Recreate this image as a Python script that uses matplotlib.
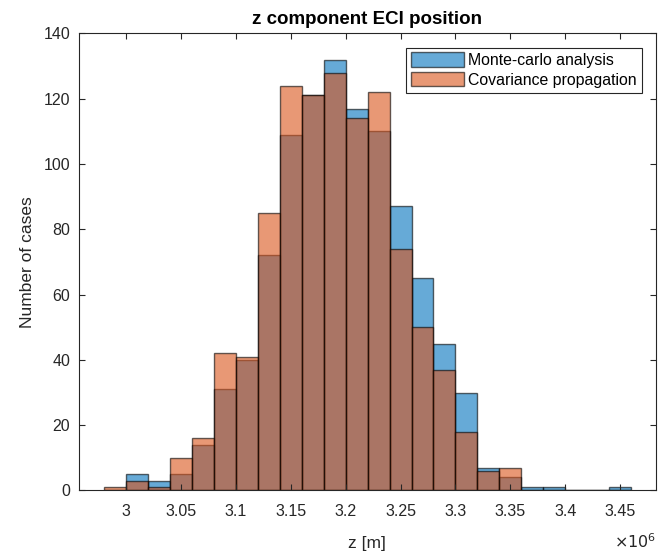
import matplotlib.pyplot as plt
import numpy as np

plt.rcParams['font.family'] = ['Liberation Sans', 'DejaVu Sans']

# histogram bins (z position, metres) and counts per bin
bin_edges = [2.98e6, 3.00e6, 3.02e6, 3.04e6, 3.06e6, 3.08e6, 3.10e6, 3.12e6,
             3.14e6, 3.16e6, 3.18e6, 3.20e6, 3.22e6, 3.24e6, 3.26e6, 3.28e6,
             3.30e6, 3.32e6, 3.34e6, 3.36e6, 3.38e6, 3.40e6, 3.42e6, 3.44e6, 3.46e6]
mc_counts = [0, 5, 3, 5, 14, 31, 40, 72, 109, 121, 132, 117, 110, 87, 65, 45,
             30, 7, 4, 1, 1, 0, 0, 1]
cp_counts = [1, 3, 1, 10, 16, 42, 41, 85, 124, 121, 128, 114, 122, 74, 50, 37,
             18, 6, 7, 0, 0, 0, 0, 0]
xtick_values = [3.0e6, 3.05e6, 3.1e6, 3.15e6, 3.2e6, 3.25e6, 3.3e6, 3.35e6, 3.4e6, 3.45e6]
ytick_values = [0, 20, 40, 60, 80, 100, 120, 140]

blue = (0.0, 0.447, 0.741)
orange = (0.85, 0.325, 0.098)
axis_grey = (0.15, 0.15, 0.15)

fig = plt.figure(figsize=(6.62, 5.57), dpi=100)
ax = fig.add_axes([0.1186, 0.1194, 0.991 - 0.1186, 0.9399 - 0.1194])

edges = np.array(bin_edges)
widths = np.diff(edges)
ax.bar(edges[:-1], mc_counts, width=widths, align='edge', color=blue, alpha=0.6,
       edgecolor='black', linewidth=1.0, label='Monte-carlo analysis')
ax.bar(edges[:-1], cp_counts, width=widths, align='edge', color=orange, alpha=0.6,
       edgecolor='black', linewidth=1.0, label='Covariance propagation')

ax.set_xlim(2.9567e6, 3.4827e6)
ax.set_ylim(0, 140)
ax.set_xticks(xtick_values)
ax.set_xticklabels(['%g' % (v / 1e6) for v in xtick_values])
ax.set_yticks(ytick_values)

ax.tick_params(direction='in', top=True, right=True, length=4, width=0.8,
               colors=axis_grey, labelsize=11.5, pad=6)
ax.tick_params(axis='x', pad=10)
for s in ax.spines.values():
    s.set_color(axis_grey)
    s.set_linewidth(0.8)

ax.set_title('z component ECI position', fontsize=13.5, fontweight='bold', pad=7)
ax.set_xlabel('z [m]', fontsize=12.5, color=axis_grey, labelpad=12)
ax.set_ylabel('Number of cases', fontsize=12.5, color=axis_grey, labelpad=6)

# exponent label under the right end of the x axis
ax.text(1.0, -0.113, r'$\times10^6$', transform=ax.transAxes, ha='right', va='center',
        fontsize=11.5, color=axis_grey)

leg = ax.legend(loc='upper right', fontsize=11.4, frameon=True, fancybox=False,
                framealpha=1, edgecolor=axis_grey, borderaxespad=0.9,
                handlelength=3.4, handleheight=1.0, handletextpad=0.25,
                labelspacing=0.27, borderpad=0.3)
leg.get_frame().set_linewidth(0.8)

fig.savefig('out.png', dpi=100)
